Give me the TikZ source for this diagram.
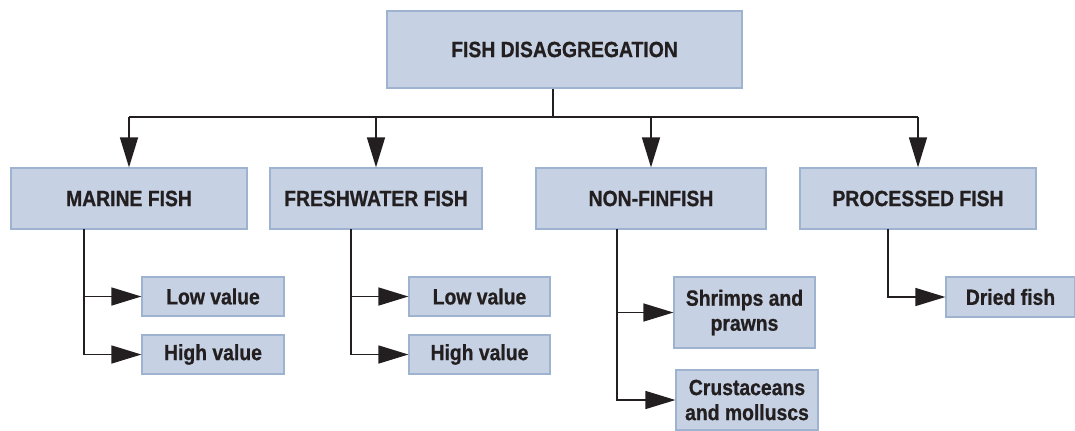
\documentclass[tikz,border=0pt]{standalone}
\usepackage{fontspec}
\setmainfont[FakeStretch=0.88,BoldFeatures={FakeBold=0.8}]{Liberation Sans}
\usepackage{xcolor}
\usetikzlibrary{arrows.meta,positioning,shapes}

\definecolor{boxfill}{HTML}{C6D2E3}
\definecolor{boxline}{HTML}{9DB3D0}
\definecolor{inkdark}{HTML}{231F20}

\tikzset{
    catbox/.style={rectangle, draw=boxline, fill=boxfill, line width=0.6pt,
        inner sep=0pt, font=\bfseries\fontsize{11}{12.5}\selectfont,
        text=inkdark, align=center},
    arr/.style={-{Triangle[length=15pt,width=9pt]}, line width=0.7pt, draw=inkdark},
    plain/.style={line width=0.7pt, draw=inkdark}
}

\begin{document}
\begin{tikzpicture}[x=0.5pt, y=-0.5pt]
    \useasboundingbox (0,0) rectangle (1075,430);

    \node (fish) [catbox, minimum width=177.5pt, minimum height=38.5pt] at (564.5,49.5) {FISH DISAGGREGATION};

    \node (marine) [catbox, minimum width=118pt, minimum height=30.5pt] at (129,198.5) {MARINE FISH};
    \node (fresh) [catbox, minimum width=106pt, minimum height=30.5pt] at (376,198.5) {FRESHWATER FISH};
    \node (nonfin) [catbox, minimum width=115pt, minimum height=30.5pt] at (651,198.5) {NON-FINFISH};
    \node (processed) [catbox, minimum width=118pt, minimum height=30.5pt] at (918,198.5) {PROCESSED FISH};

    \node (mlow) [catbox, minimum width=71pt, minimum height=19.5pt] at (213,296.5) {Low value};
    \node (mhigh) [catbox, minimum width=71pt, minimum height=19.5pt] at (213,354.5) {High value};
    \node (flow) [catbox, minimum width=70.5pt, minimum height=19.5pt] at (479.5,296.5) {Low value};
    \node (fhigh) [catbox, minimum width=70.5pt, minimum height=19.5pt] at (479.5,354.5) {High value};
    \node (shrimps) [catbox, minimum width=70.5pt, minimum height=35.5pt] at (744.5,312.5) {Shrimps and\\prawns};
    \node (crust) [catbox, minimum width=71pt, minimum height=30pt] at (747,400) {Crustaceans\\and molluscs};
    \node (dried) [catbox, minimum width=64.5pt, minimum height=20pt] at (1010.5,297) {Dried fish};

    \coordinate (bus) at (553,117);
    \coordinate (mstem) at (84,229);
    \coordinate (fstem) at (351,229);
    \coordinate (nstem) at (617,229);
    \coordinate (pstem) at (888,229);

    % top level
    \draw [plain] (fish.south -| bus) -- (bus);
    \draw [plain] (marine.north |- bus) -- (processed.north |- bus);
    \draw [arr] (marine.north |- bus) -- (marine.north);
    \draw [arr] (fresh.north |- bus) -- (fresh.north);
    \draw [arr] (nonfin.north |- bus) -- (nonfin.north);
    \draw [arr] (processed.north |- bus) -- (processed.north);

    % sub-categories
    \draw [arr] (mstem) |- (mlow.west);
    \draw [arr] (mstem) |- (mhigh.west);
    \draw [arr] (fstem) |- (flow.west);
    \draw [arr] (fstem) |- (fhigh.west);
    \draw [arr] (nstem) |- (shrimps.west);
    \draw [arr] (nstem) |- (crust.west);
    \draw [arr] (pstem) |- (dried.west);
\end{tikzpicture}
\end{document}
